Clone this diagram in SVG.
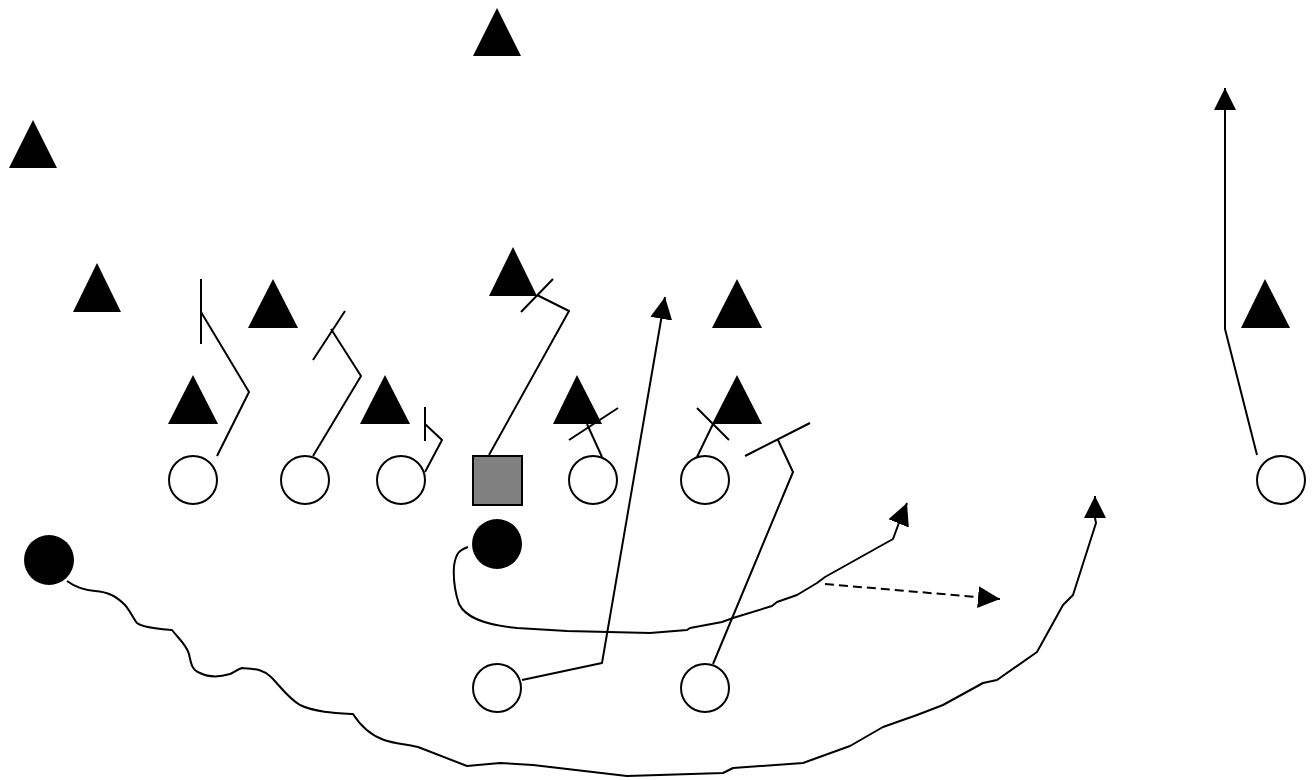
<svg xmlns="http://www.w3.org/2000/svg" width="1314" height="780" viewBox="0 0 1314 780">
<style>
.def{fill:#000;stroke:none}
.off{fill:#fff;stroke:#000;stroke-width:2}
.ball{fill:#000;stroke:none}
.ctr{fill:#808080;stroke:#000;stroke-width:2}
.rt{fill:none;stroke:#000;stroke-width:2;stroke-linejoin:round}
.arr{marker-end:url(#ah)}
.dash{stroke-dasharray:9,5}
</style>
<defs>
<marker id="ah" markerUnits="userSpaceOnUse" markerWidth="22" markerHeight="22" refX="20" refY="10" orient="auto" viewBox="0 0 20 20">
<path d="M0,0 L20,10 L0,20 z" fill="#000"/>
</marker>
</defs>
<rect width="1314" height="780" fill="#fff"/>
<g id="defense">
<polygon id="d1" class="def" points="497,8 521,56 473,56"/>
<polygon id="d2" class="def" points="33,120 57,168 9,168"/>
<polygon id="d3" class="def" points="97,263 121,312 73,312"/>
<polygon id="d4" class="def" points="273,279 298,328 248,328"/>
<polygon id="d5" class="def" points="513,247 537,296 489,296"/>
<polygon id="d6" class="def" points="737,279 762,328 712,328"/>
<polygon id="d7" class="def" points="1265,279 1290,328 1241,328"/>
<polygon id="d8" class="def" points="193,375 218,424 168,424"/>
<polygon id="d9" class="def" points="385,375 410,424 360,424"/>
<polygon id="d10" class="def" points="577,375 602,424 553,424"/>
<polygon id="d11" class="def" points="737,375 762,424 712,424"/>
</g>
<g id="offense">
<circle id="o1" class="off" cx="193" cy="480" r="24"/>
<circle id="o2" class="off" cx="305" cy="480" r="24"/>
<circle id="o3" class="off" cx="401" cy="480" r="24"/>
<rect id="center" class="ctr" x="473" y="456" width="49" height="49"/>
<circle id="o4" class="off" cx="593" cy="480" r="24"/>
<circle id="o5" class="off" cx="705" cy="480" r="24"/>
<circle id="o6" class="off" cx="1281" cy="480" r="24"/>
<circle id="o7" class="off" cx="497" cy="688" r="24"/>
<circle id="o8" class="off" cx="705" cy="688" r="24"/>
<circle id="qb" class="ball" cx="497" cy="544" r="25"/>
<circle id="motion" class="ball" cx="49" cy="560" r="25"/>
</g>
<g id="connectors">
<polyline class="rt" points="217,456 249,392 201,312"/>
<line class="rt" x1="201" y1="279" x2="201" y2="344"/>
<polyline class="rt" points="313,456 361,376 331,329"/>
<line class="rt" x1="313" y1="360" x2="345" y2="311"/>
<polyline class="rt" points="425,472 442,440 425,424"/>
<line class="rt" x1="425" y1="407" x2="425" y2="441"/>
<polyline class="rt" points="489,455 569,311 537,295"/>
<line class="rt" x1="521" y1="312" x2="553" y2="279"/>
<line class="rt" x1="602" y1="457" x2="587" y2="424"/>
<line class="rt" x1="569" y1="440" x2="618" y2="408"/>
<line class="rt" x1="697" y1="457" x2="713" y2="424"/>
<line class="rt" x1="697" y1="408" x2="729" y2="440"/>
<polyline class="rt" points="713,664 793,472 778,440"/>
<line class="rt" x1="745" y1="456" x2="810" y2="423"/>
<polyline class="rt arr" points="522,680 602,663 665,297"/>
<path class="rt arr" d="M468,547 C460,550 456,552 454,566 C453,580 455,592 459,604 C466,618 485,625 517,628 L567,631 L650,633 L687,630 L690,628 L722,622 L733,618 L772,606 L777,602 L797,595 L817,583 L825,577 L893,539 L900,520 L907,503"/>
<line class="rt dash arr" x1="825" y1="584" x2="1000" y2="599"/>
<path class="rt arr" d="M67,581 C75,587 84,590 95,591 C108,592 116,596 125,605 C131,612 134,620 137,623 C143,628 160,629 172,630 C178,638 186,644 189,654 C191,664 192,670 200,673 C208,677 217,678 230,674 C235,672 238,669 242,668 C256,669 262,669 271,677 C280,686 288,698 300,705 C314,712 335,713 353,714 C360,725 370,735 384,740 C395,744 408,744 418,747 L467,766 L500,763 L533,765 L627,776 L723,773 L733,768 L803,763 L850,746 L883,727 L917,715 L943,705 L983,683 L997,680 L1037,652 L1063,605 L1073,595 L1096,523 L1095,518 L1095,496"/>
<polyline class="rt arr" points="1257,455 1225,329 1225,88"/>
</g>
</svg>
